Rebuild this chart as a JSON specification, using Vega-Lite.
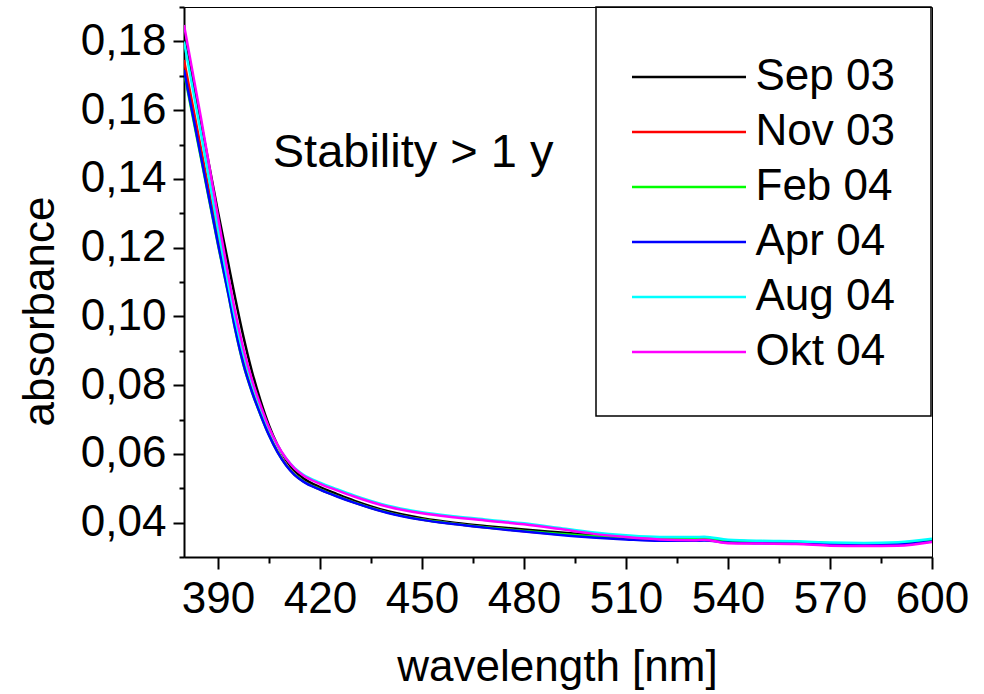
{
  "$schema": "https://vega.github.io/schema/vega-lite/v6.json",
  "width": 748,
  "height": 550,
  "autosize": "none",
  "padding": {"left": 184, "top": 7, "right": 52, "bottom": 137},
  "background": "#ffffff",
  "config": {
    "view": {"stroke": "#000000", "strokeWidth": 1},
    "font": "Liberation Sans",
    "legend": {"strokeWidth": 1.5}
  },
  "resolve": {"axis": {"x": "independent", "y": "independent"}},
  "layer": [
    {
      "data": {
        "values": [
          {"w": 380, "Sep 03": 0.1810, "Nov 03": 0.1746, "Feb 04": 0.1710, "Apr 04": 0.1717, "Aug 04": 0.1800, "Okt 04": 0.1848},
          {"w": 385, "Sep 03": 0.1564, "Nov 03": 0.1487, "Feb 04": 0.1460, "Apr 04": 0.1464, "Aug 04": 0.1532, "Okt 04": 0.1577},
          {"w": 390, "Sep 03": 0.1304, "Nov 03": 0.1228, "Feb 04": 0.1208, "Apr 04": 0.1211, "Aug 04": 0.1254, "Okt 04": 0.1289},
          {"w": 393, "Sep 03": 0.1155, "Nov 03": 0.1078, "Feb 04": 0.1066, "Apr 04": 0.1067, "Aug 04": 0.1095, "Okt 04": 0.1120},
          {"w": 395, "Sep 03": 0.1056, "Nov 03": 0.0976, "Feb 04": 0.0965, "Apr 04": 0.0966, "Aug 04": 0.0996, "Okt 04": 0.1016},
          {"w": 397.5, "Sep 03": 0.0940, "Nov 03": 0.0867, "Feb 04": 0.0859, "Apr 04": 0.0860, "Aug 04": 0.0890, "Okt 04": 0.0905},
          {"w": 400, "Sep 03": 0.0839, "Nov 03": 0.0785, "Feb 04": 0.0780, "Apr 04": 0.0780, "Aug 04": 0.0805, "Okt 04": 0.0815},
          {"w": 402.5, "Sep 03": 0.0755, "Nov 03": 0.0718, "Feb 04": 0.0714, "Apr 04": 0.0714, "Aug 04": 0.0735, "Okt 04": 0.0742},
          {"w": 405, "Sep 03": 0.0683, "Nov 03": 0.0657, "Feb 04": 0.0655, "Apr 04": 0.0654, "Aug 04": 0.0673, "Okt 04": 0.0677},
          {"w": 407.5, "Sep 03": 0.0626, "Nov 03": 0.0607, "Feb 04": 0.0606, "Apr 04": 0.0605, "Aug 04": 0.0624, "Okt 04": 0.0626},
          {"w": 410, "Sep 03": 0.0583, "Nov 03": 0.0569, "Feb 04": 0.0568, "Apr 04": 0.0567, "Aug 04": 0.0587, "Okt 04": 0.0587},
          {"w": 412.5, "Sep 03": 0.0551, "Nov 03": 0.0540, "Feb 04": 0.0540, "Apr 04": 0.0539, "Aug 04": 0.0559, "Okt 04": 0.0558},
          {"w": 415, "Sep 03": 0.0530, "Nov 03": 0.0521, "Feb 04": 0.0521, "Apr 04": 0.0520, "Aug 04": 0.0540, "Okt 04": 0.0538},
          {"w": 420, "Sep 03": 0.0503, "Nov 03": 0.0497, "Feb 04": 0.0497, "Apr 04": 0.0496, "Aug 04": 0.0516, "Okt 04": 0.0513},
          {"w": 425, "Sep 03": 0.0483, "Nov 03": 0.0477, "Feb 04": 0.0477, "Apr 04": 0.0476, "Aug 04": 0.0497, "Okt 04": 0.0494},
          {"w": 430, "Sep 03": 0.0464, "Nov 03": 0.0459, "Feb 04": 0.0459, "Apr 04": 0.0458, "Aug 04": 0.0479, "Okt 04": 0.0476},
          {"w": 440, "Sep 03": 0.0433, "Nov 03": 0.0429, "Feb 04": 0.0429, "Apr 04": 0.0428, "Aug 04": 0.0449, "Okt 04": 0.0446},
          {"w": 450, "Sep 03": 0.0413, "Nov 03": 0.0409, "Feb 04": 0.0409, "Apr 04": 0.0408, "Aug 04": 0.0430, "Okt 04": 0.0427},
          {"w": 460, "Sep 03": 0.0399, "Nov 03": 0.0396, "Feb 04": 0.0396, "Apr 04": 0.0395, "Aug 04": 0.0418, "Okt 04": 0.0415},
          {"w": 470, "Sep 03": 0.0389, "Nov 03": 0.0385, "Feb 04": 0.0385, "Apr 04": 0.0384, "Aug 04": 0.0408, "Okt 04": 0.0405},
          {"w": 480, "Sep 03": 0.0380, "Nov 03": 0.0375, "Feb 04": 0.0376, "Apr 04": 0.0374, "Aug 04": 0.0398, "Okt 04": 0.0395},
          {"w": 490, "Sep 03": 0.0372, "Nov 03": 0.0366, "Feb 04": 0.0368, "Apr 04": 0.0365, "Aug 04": 0.0385, "Okt 04": 0.0382},
          {"w": 500, "Sep 03": 0.0364, "Nov 03": 0.0359, "Feb 04": 0.0361, "Apr 04": 0.0357, "Aug 04": 0.0372, "Okt 04": 0.0368},
          {"w": 510, "Sep 03": 0.0357, "Nov 03": 0.0353, "Feb 04": 0.0356, "Apr 04": 0.0351, "Aug 04": 0.0363, "Okt 04": 0.0358},
          {"w": 520, "Sep 03": 0.0353, "Nov 03": 0.0349, "Feb 04": 0.0352, "Apr 04": 0.0347, "Aug 04": 0.0358, "Okt 04": 0.0351},
          {"w": 530, "Sep 03": 0.0354, "Nov 03": 0.0349, "Feb 04": 0.0353, "Apr 04": 0.0347, "Aug 04": 0.0358, "Okt 04": 0.0349},
          {"w": 533, "Sep 03": 0.0356, "Nov 03": 0.0350, "Feb 04": 0.0355, "Apr 04": 0.0348, "Aug 04": 0.0359, "Okt 04": 0.0350},
          {"w": 540, "Sep 03": 0.0348, "Nov 03": 0.0344, "Feb 04": 0.0347, "Apr 04": 0.0342, "Aug 04": 0.0350, "Okt 04": 0.0340},
          {"w": 550, "Sep 03": 0.0345, "Nov 03": 0.0342, "Feb 04": 0.0345, "Apr 04": 0.0340, "Aug 04": 0.0347, "Okt 04": 0.0339},
          {"w": 560, "Sep 03": 0.0344, "Nov 03": 0.0340, "Feb 04": 0.0344, "Apr 04": 0.0339, "Aug 04": 0.0346, "Okt 04": 0.0338},
          {"w": 570, "Sep 03": 0.0340, "Nov 03": 0.0338, "Feb 04": 0.0340, "Apr 04": 0.0337, "Aug 04": 0.0342, "Okt 04": 0.0333},
          {"w": 580, "Sep 03": 0.0339, "Nov 03": 0.0337, "Feb 04": 0.0339, "Apr 04": 0.0336, "Aug 04": 0.0341, "Okt 04": 0.0332},
          {"w": 590, "Sep 03": 0.0340, "Nov 03": 0.0338, "Feb 04": 0.0340, "Apr 04": 0.0337, "Aug 04": 0.0343, "Okt 04": 0.0333},
          {"w": 600, "Sep 03": 0.0348, "Nov 03": 0.0346, "Feb 04": 0.0349, "Apr 04": 0.0345, "Aug 04": 0.0353, "Okt 04": 0.0344}
        ]
      },
      "transform": [
        {"fold": ["Sep 03", "Nov 03", "Feb 04", "Apr 04", "Aug 04", "Okt 04"], "as": ["series", "a"]}
      ],
      "mark": {"type": "line", "strokeWidth": 2.5, "interpolate": "monotone", "clip": true},
      "encoding": {
        "x": {
          "field": "w",
          "type": "quantitative",
          "scale": {"domain": [380, 600], "nice": false, "zero": false},
          "axis": {
            "orient": "bottom",
            "title": "wavelength [nm]",
            "values": [390, 420, 450, 480, 510, 540, 570, 600],
            "tickSize": 12,
            "tickWidth": 2,
            "tickColor": "#000000",
            "domainWidth": 2,
            "domainColor": "#000000",
            "grid": false,
            "labelFont": "Liberation Sans",
            "labelFontSize": 44,
            "labelColor": "#000000",
            "labelPadding": 8,
            "labelFlush": false,
            "labelOverlap": false,
            "titleFont": "Liberation Sans",
            "titleFontSize": 44,
            "titleFontWeight": "normal",
            "titleColor": "#000000",
            "titleX": 373,
            "titleY": 123,
            "titleAlign": "center",
            "titleBaseline": "alphabetic"
          }
        },
        "y": {
          "field": "a",
          "type": "quantitative",
          "scale": {"domain": [0.03, 0.19], "nice": false, "zero": false},
          "axis": {
            "orient": "left",
            "title": "absorbance",
            "values": [0.04, 0.06, 0.08, 0.10, 0.12, 0.14, 0.16, 0.18],
            "labelExpr": "replace(format(datum.value, '.2f'), '.', ',')",
            "tickSize": 11,
            "tickWidth": 2,
            "tickColor": "#000000",
            "domainWidth": 2,
            "domainColor": "#000000",
            "grid": false,
            "labelFont": "Liberation Sans",
            "labelFontSize": 44,
            "labelColor": "#000000",
            "labelPadding": 7,
            "labelFlush": false,
            "labelOverlap": false,
            "titleFont": "Liberation Sans",
            "titleFontSize": 44,
            "titleFontWeight": "normal",
            "titleColor": "#000000",
            "titleAngle": -90,
            "titleX": -131,
            "titleY": 304,
            "titleAlign": "center",
            "titleBaseline": "alphabetic"
          }
        },
        "color": {
          "field": "series",
          "type": "nominal",
          "sort": ["Sep 03", "Nov 03", "Feb 04", "Apr 04", "Aug 04", "Okt 04"],
          "scale": {
            "domain": ["Sep 03", "Nov 03", "Feb 04", "Apr 04", "Aug 04", "Okt 04"],
            "range": ["#000000", "#ff0000", "#00ff00", "#0000ff", "#00ffff", "#ff00ff"]
          },
          "legend": {
            "title": " ",
            "titleFontSize": 5,
            "titlePadding": 1.5,
            "orient": "none",
            "legendX": 412,
            "legendY": 0,
            "padding": 36,
            "clipHeight": 55,
            "rowPadding": 0,
            "strokeColor": "#000000",
            "symbolType": "stroke",
            "symbolSize": 14161,
            "symbolStrokeWidth": 2.5,
            "symbolOffset": -6.5,
            "labelOffset": 8,
            "labelFont": "Liberation Sans",
            "labelFontSize": 44,
            "labelColor": "#000000",
            "labelLimit": 300
          }
        }
      }
    },
    {
      "data": {"values": [{"w": 406.1, "a": 0.1435, "t": "Stability > 1 y"}]},
      "mark": {"type": "text", "align": "left", "baseline": "alphabetic", "font": "Liberation Sans", "fontSize": 47, "color": "#000000"},
      "encoding": {
        "x": {
          "field": "w",
          "type": "quantitative",
          "axis": {
            "orient": "bottom",
            "title": null,
            "values": [405, 435, 465, 495, 525, 555, 585],
            "labels": false,
            "domain": false,
            "grid": false,
            "tickSize": 6,
            "tickWidth": 2,
            "tickColor": "#000000"
          }
        },
        "y": {
          "field": "a",
          "type": "quantitative",
          "axis": {
            "orient": "left",
            "title": null,
            "values": [0.03, 0.05, 0.07, 0.09, 0.11, 0.13, 0.15, 0.17, 0.19],
            "labels": false,
            "domain": false,
            "grid": false,
            "tickSize": 5,
            "tickWidth": 2,
            "tickColor": "#000000"
          }
        },
        "text": {"field": "t"}
      }
    }
  ]
}
